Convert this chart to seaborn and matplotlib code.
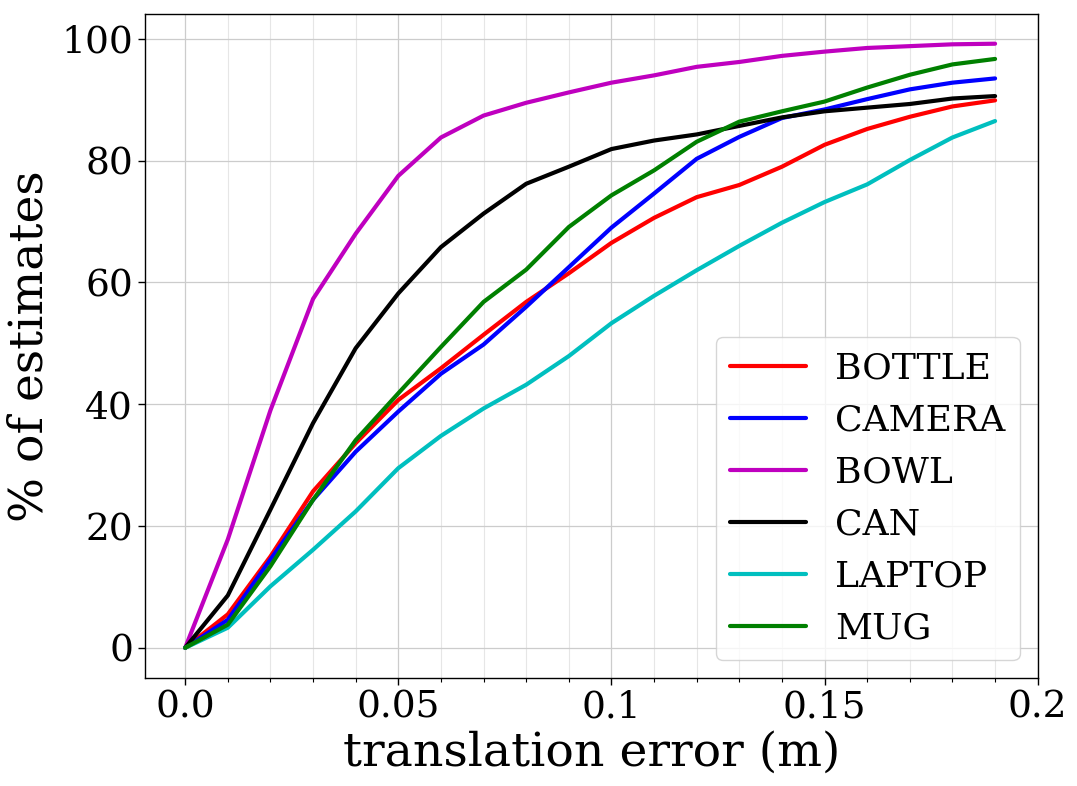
import numpy as np
import pandas as pd
import matplotlib
matplotlib.use("Agg")
import matplotlib.pyplot as plt
from matplotlib.ticker import MultipleLocator, FixedLocator
import seaborn as sns

x_vals = [0.00, 0.01, 0.02, 0.03, 0.04, 0.05, 0.06, 0.07, 0.08, 0.09,
          0.10, 0.11, 0.12, 0.13, 0.14, 0.15, 0.16, 0.17, 0.18, 0.19]

bottle = [0, 5.5, 15.0, 25.7, 33.6, 40.7, 45.9, 51.4, 56.8, 61.5,
          66.5, 70.6, 74.0, 76.0, 79.0, 82.6, 85.2, 87.2, 88.9, 89.9]
camera = [0, 4.6, 14.5, 24.3, 32.2, 38.8, 45.0, 49.8, 56.0, 62.5,
          69.0, 74.6, 80.3, 83.9, 87.0, 88.4, 90.1, 91.7, 92.8, 93.5]
bowl = [0, 17.8, 39.0, 57.3, 68.0, 77.5, 83.8, 87.4, 89.5, 91.2,
        92.8, 94.0, 95.4, 96.2, 97.2, 97.9, 98.5, 98.8, 99.1, 99.2]
can = [0, 8.6, 22.7, 36.9, 49.2, 58.2, 65.8, 71.3, 76.2, 79.0,
       81.9, 83.3, 84.3, 85.7, 87.1, 88.1, 88.7, 89.3, 90.2, 90.6]
laptop = [0, 3.3, 10.1, 16.1, 22.4, 29.5, 34.8, 39.3, 43.2, 47.9,
          53.3, 57.8, 62.0, 66.0, 69.8, 73.2, 76.1, 80.1, 83.8, 86.5]
mug = [0, 3.8, 13.4, 24.3, 34.1, 41.8, 49.4, 56.8, 62.1, 69.1,
       74.3, 78.4, 83.1, 86.4, 88.1, 89.7, 92.0, 94.1, 95.8, 96.7]

categories = ["BOTTLE", "CAMERA", "BOWL", "CAN", "LAPTOP", "MUG"]
colors = ["#ff0000", "#0000ff", "#bf00bf", "#000000", "#00bfbf", "#008000"]
series = [bottle, camera, bowl, can, laptop, mug]

xtick_vals = [0.0, 0.05, 0.1, 0.15, 0.2]
xtick_labels = ["0.0", "0.05", "0.1", "0.15", "0.2"]
ytick_vals = [0, 20, 40, 60, 80, 100]

rows = []
for cat, vals in zip(categories, series):
    for xv, yv in zip(x_vals, vals):
        rows.append({"x": xv, "y": yv, "category": cat})
df = pd.DataFrame(rows)

sns.set_style("ticks")
plt.rcParams["font.family"] = ["DejaVu Serif"]
plt.rcParams["text.color"] = "black"
plt.rcParams["axes.labelcolor"] = "black"
plt.rcParams["xtick.color"] = "black"
plt.rcParams["ytick.color"] = "black"

fig = plt.figure(figsize=(10.77, 7.86), dpi=100)
ax = fig.add_axes([144.7 / 1077, 1 - 678 / 786, (1037.7 - 144.7) / 1077, (678 - 13.5) / 786])

sns.lineplot(data=df, x="x", y="y", hue="category", hue_order=categories,
             palette=dict(zip(categories, colors)), linewidth=3, ax=ax,
             estimator=None, sort=False)

ax.set_xlim(-0.0095, 0.2)
ax.set_ylim(-4.96, 104.16)
ax.xaxis.set_major_locator(FixedLocator(xtick_vals))
ax.set_xticklabels(xtick_labels)
ax.xaxis.set_minor_locator(MultipleLocator(0.01))
ax.set_yticks(ytick_vals)
ax.tick_params(axis="both", which="major", labelsize=27, length=5, width=1,
               color="black", labelcolor="black")
ax.tick_params(axis="x", which="minor", length=3, width=0.8, color="black")

ax.grid(True, which="major", color="#cccccc", linewidth=0.9)
ax.grid(True, which="minor", axis="x", color="#e6e6e6", linewidth=0.8)
ax.set_axisbelow(True)

for s in ax.spines.values():
    s.set_color("black")
    s.set_linewidth(1.0)
    s.set_visible(True)

ax.set_xlabel("translation error (m)", fontsize=34, labelpad=3, color="black")
ax.set_ylabel("% of estimates", fontsize=34, labelpad=6, color="black")

leg = ax.legend(loc="lower right", fontsize=26, frameon=True, fancybox=True,
                handlelength=2.1, borderaxespad=0.5)
for line in leg.get_lines():
    line.set_linewidth(3)
for t in leg.get_texts():
    t.set_color("black")

fig.savefig("out.png", dpi=100)
